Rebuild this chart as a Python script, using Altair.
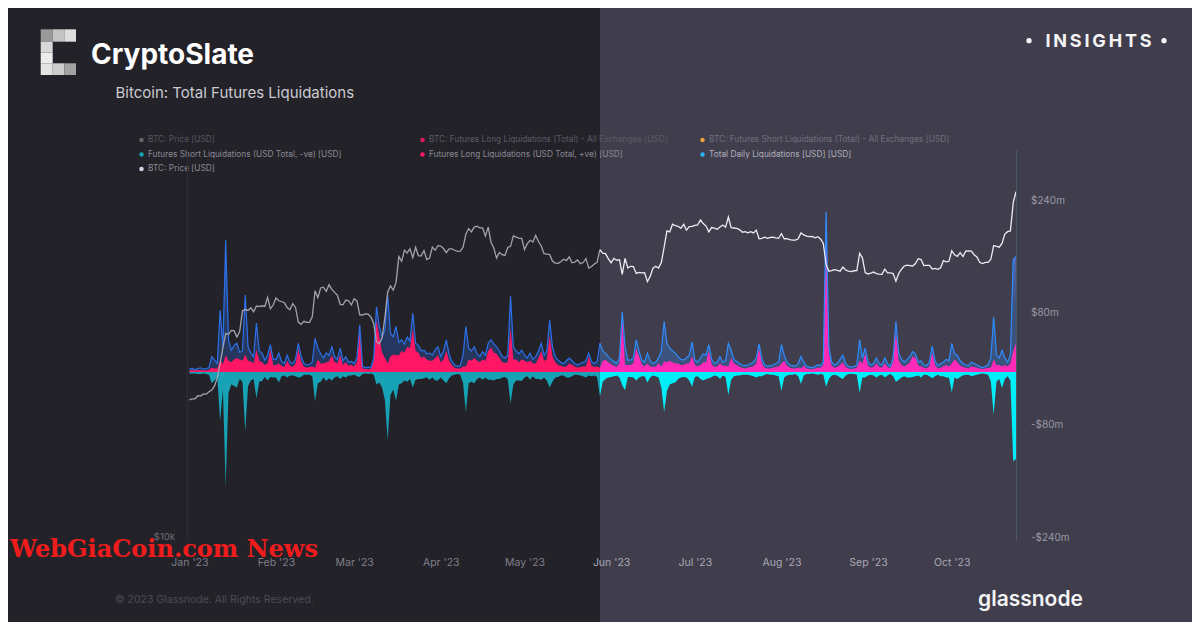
import altair as alt
import pandas as pd

# ---------------- data ----------------
# BTC price, thousand USD, daily 2023-01-01 .. 2023-10-24
price_k = [
    # Jan
    16.61, 16.67, 16.67, 16.85, 16.83, 16.95, 16.94, 17.09, 17.19, 17.44, 17.94, 18.85, 19.93, 20.95, 20.87, 21.17,
    21.16, 20.69, 21.09, 22.68, 22.78, 22.71, 22.92, 22.61, 23.06, 23.01, 23.08, 23.03, 23.77, 22.84, 23.14,
    # Feb
    23.72, 23.49, 23.43, 23.33, 22.94, 22.76, 23.26, 22.95, 21.80, 21.63, 21.86, 21.79, 21.78, 22.20, 24.33, 23.74,
    24.57, 24.63, 24.28, 24.84, 24.44, 24.19, 23.95, 23.20, 23.16, 23.55, 23.49, 23.15,
    # Mar
    23.65, 23.48, 22.36, 22.35, 22.43, 22.41, 22.20, 21.70, 20.36, 20.19, 20.63, 22.16, 24.20, 24.75, 24.38, 25.05,
    27.42, 26.97, 28.04, 27.77, 28.18, 27.31, 28.33, 27.49, 27.49, 27.99, 27.14, 27.27, 28.35, 28.03, 28.48,
    # Apr
    28.45, 28.20, 27.80, 28.17, 28.17, 28.03, 27.92, 27.95, 28.33, 29.65, 30.24, 29.90, 30.40, 30.49, 30.32, 30.32,
    29.45, 30.40, 28.82, 28.25, 27.28, 27.82, 27.60, 27.53, 28.31, 28.42, 29.47, 29.34, 29.25, 29.23,
    # May
    28.09, 28.68, 29.03, 28.85, 29.53, 28.90, 28.45, 27.69, 27.66, 27.62, 26.99, 26.80, 26.78, 26.93, 27.17, 27.03,
    27.40, 26.83, 26.89, 27.10, 26.75, 26.85, 27.22, 26.33, 26.48, 26.72, 26.87, 28.08, 27.75, 27.70, 27.22,
    # Jun
    26.82, 27.25, 27.07, 27.12, 25.76, 27.24, 26.35, 26.50, 26.48, 25.85, 25.94, 25.90, 25.92, 25.12, 25.58, 26.33,
    26.51, 26.34, 26.84, 28.33, 29.99, 29.89, 30.70, 30.55, 30.48, 30.27, 30.69, 30.08, 30.45, 30.48,
    # Jul
    30.59, 30.62, 31.16, 30.77, 30.51, 29.90, 30.35, 30.29, 30.17, 30.41, 30.62, 30.39, 31.48, 30.33, 30.30, 30.25,
    30.14, 29.86, 29.91, 29.80, 29.91, 29.79, 30.08, 29.18, 29.23, 29.35, 29.22, 29.31, 29.35, 29.28, 29.23,
    # Aug
    29.70, 29.18, 29.19, 29.10, 29.05, 29.04, 29.18, 29.77, 29.58, 29.45, 29.40, 29.42, 29.28, 29.40, 29.17, 28.70,
    26.66, 26.05, 26.10, 26.19, 26.12, 26.05, 26.43, 26.16, 26.06, 26.01, 26.09, 26.10, 27.73, 27.30, 25.93,
    # Sep
    25.80, 25.87, 25.97, 25.83, 25.79, 25.76, 26.24, 25.90, 25.90, 25.84, 25.16, 25.84, 26.23, 26.53, 26.61, 26.57,
    26.53, 26.76, 27.21, 27.13, 26.57, 26.58, 26.58, 26.25, 26.30, 26.22, 26.37, 27.03, 26.91, 26.97,
    # Oct
    27.98, 27.59, 27.43, 27.80, 27.42, 27.95, 27.97, 27.94, 27.60, 27.39, 26.87, 26.76, 26.86, 26.86, 27.16, 28.50,
    28.42, 28.33, 28.71, 29.67, 29.91, 29.99, 33.09, 34.40,
]

# Futures long liquidations (USD Total, +ve), million USD
long_m = [
    2, 3, 2, 3, 3, 2, 2, 3, 6, 5, 5, 18, 11, 24, 16, 14, 18, 20, 18, 16, 25, 16, 15, 12, 32, 16, 14, 10, 12, 32, 10,
    10, 12, 9, 7, 16, 9, 7, 12, 33, 15, 8, 6, 7, 8, 6, 18, 12, 12, 14, 15, 24, 14, 12, 24, 10, 14, 9, 10,
    8, 14, 60, 5, 4, 4, 4, 16, 75, 50, 28, 20, 12, 22, 25, 24, 24, 30, 28, 36, 34, 62, 30, 28, 20, 22, 18, 16, 16, 20, 24,
    14, 18, 30, 16, 10, 6, 5, 5, 8, 8, 18, 16, 20, 16, 14, 18, 16, 30, 35, 28, 26, 20, 14, 13, 14, 63, 18, 18, 14, 18,
    16, 14, 16, 12, 12, 20, 30, 16, 18, 52, 22, 14, 10, 9, 7, 8, 12, 10, 8, 6, 7, 8, 8, 22, 9, 7, 8, 6, 16, 17, 14,
    11, 9, 7, 12, 79, 10, 10, 10, 12, 34, 22, 11, 8, 12, 8, 7, 8, 12, 8, 15, 14, 16, 14, 12, 12, 10, 10, 12, 12, 22,
    10, 8, 10, 14, 14, 30, 11, 7, 8, 12, 9, 9, 8, 20, 12, 10, 7, 6, 5, 6, 7, 8, 12, 34, 12, 6, 5, 5, 6, 7, 8,
    12, 16, 9, 6, 5, 5, 6, 5, 9, 5, 4, 4, 5, 6, 6, 10, 208, 26, 9, 6, 7, 10, 14, 7, 5, 4, 5, 6, 16, 12, 26,
    9, 6, 7, 12, 7, 6, 12, 7, 5, 14, 58, 16, 10, 8, 10, 14, 22, 20, 9, 8, 6, 5, 8, 28, 10, 5, 6, 8, 10, 8,
    12, 18, 14, 9, 7, 6, 5, 8, 7, 6, 5, 4, 5, 6, 6, 18, 10, 10, 8, 10, 8, 12, 30, 41,
]

# Futures short liquidations (USD Total, -ve), million USD
short_m = [
    -2, -2, -2, -3, -3, -2, -3, -4, -16, -12, -8, -70, -25, -164, -30, -18, -20, -22, -10, -14, -85, -20, -12, -10,
    -38, -14, -13, -7, -12, -7, -8,
    -8, -15, -6, -5, -8, -5, -5, -6, -8, -7, -4, -4, -4, -6, -42, -16, -14, -8, -13, -9, -12, -8, -6, -10, -6, -8, -5, -5,
    -4, -6, -7, -3, -2, -3, -2, -4, -18, -15, -22, -40, -98, -33, -25, -41, -18, -16, -12, -14, -10, -22, -11, -10,
    -10, -9, -8, -11, -8, -12, -12,
    -8, -12, -16, -9, -5, -4, -3, -4, -16, -57, -16, -14, -16, -10, -8, -11, -8, -11, -11, -12, -10, -10, -8, -7,
    -10, -45, -18, -12, -12, -13,
    -8, -6, -11, -6, -10, -10, -11, -8, -12, -22, -14, -8, -7, -5, -5, -8, -8, -6, -4, -4, -5, -6, -8, -5,
    -6, -5, -7, -35, -14, -10, -8,
    -7, -6, -5, -8, -19, -26, -7, -7, -8, -12, -8, -6, -6, -15, -8, -5, -6, -8, -22, -57, -27, -18, -16, -15,
    -10, -8, -7, -8, -12, -21,
    -7, -6, -10, -12, -10, -9, -7, -5, -6, -10, -5, -7, -33, -11, -6, -5, -5, -4, -4, -4, -5, -6, -8, -6,
    -6, -4, -3, -4, -4, -5, -6,
    -27, -8, -5, -4, -4, -3, -6, -17, -5, -3, -3, -2, -3, -4, -3, -4, -21, -10, -5, -4, -5, -8, -10, -5,
    -3, -3, -3, -4, -30, -8, -8,
    -5, -4, -5, -8, -5, -4, -8, -5, -3, -6, -14, -11, -8, -6, -8, -8, -7, -6, -5, -8, -4, -4, -6, -9,
    -6, -4, -6, -6, -8, -8,
    -29, -8, -10, -7, -5, -4, -4, -6, -5, -4, -3, -2, -3, -4, -14, -61, -14, -10, -23, -10, -6, -12, -128, -124,
]

# Total daily liquidations, million USD
total_m = [
    4, 5, 3, 5, 6, 4, 5, 6, 22, 17, 12, 88, 36, 188, 46, 31, 38, 41, 28, 30, 110, 36, 27, 22, 70, 30, 27, 17, 24, 39, 18,
    18, 27, 15, 12, 24, 14, 12, 18, 41, 22, 12, 10, 11, 14, 48, 34, 26, 20, 27, 24, 36, 22, 18, 34, 16, 22, 14, 15,
    12, 20, 67, 8, 6, 7, 6, 20, 93, 65, 50, 60, 110, 55, 50, 65, 42, 46, 40, 50, 44, 84, 41, 38, 30, 31, 26, 27, 24, 32, 36,
    22, 30, 46, 25, 15, 10, 8, 9, 24, 65, 34, 30, 36, 26, 22, 29, 24, 41, 46, 40, 36, 30, 22, 20, 24, 108, 36, 30, 26, 31,
    24, 20, 27, 18, 22, 30, 41, 24, 30, 74, 36, 22, 17, 14, 12, 16, 20, 16, 12, 10, 12, 14, 16, 27, 15, 12, 15, 41, 30, 27, 22,
    18, 15, 12, 20, 86, 36, 17, 17, 20, 46, 30, 17, 14, 27, 16, 12, 14, 20, 30, 72, 41, 34, 30, 27, 22, 18, 17, 20, 24, 43,
    17, 14, 20, 26, 24, 39, 18, 12, 14, 22, 14, 16, 41, 31, 18, 15, 12, 10, 9, 10, 12, 14, 20, 40, 18, 10, 8, 9, 10, 12, 14,
    39, 24, 14, 10, 9, 8, 12, 22, 14, 8, 7, 6, 8, 10, 9, 14, 229, 36, 14, 10, 12, 18, 24, 12, 8, 7, 8, 10, 46, 20, 34,
    14, 10, 12, 20, 12, 10, 20, 12, 8, 20, 72, 27, 18, 14, 18, 22, 29, 26, 14, 16, 10, 9, 14, 37, 16, 9, 12, 14, 18, 16,
    41, 26, 24, 16, 12, 10, 9, 14, 12, 10, 8, 6, 8, 10, 20, 79, 24, 20, 31, 20, 14, 24, 160, 165,
]

legend_labels = [
    "BTC: Price [USD]",
    "BTC: Futures Long Liquidations (Total) - All Exchanges [USD]",
    "BTC: Futures Short Liquidations (Total) - All Exchanges [USD]",
    "Futures Short Liquidations (USD Total, -ve) [USD]",
    "Futures Long Liquidations (USD Total, +ve) [USD]",
    "Total Daily Liquidations [USD] [USD]",
    "BTC: Price [USD]",
]
month_ticks = list(range(1, 11))
liq_ticks = [-240, -80, 80, 240]

# ---------------- frames ----------------
n = len(price_k)
dates = pd.date_range("2023-01-01", periods=n, freq="D")
df = pd.DataFrame({
    "date": dates,
    "long": long_m,
    "short": short_m,
    "total": total_m,
    "price": [p * 1000 for p in price_k],
})
SPLIT = 147  # day sitting on the background colour change
dfL = df.iloc[: SPLIT + 1]
dfR = df.iloc[SPLIT:]

# ---------------- styling ----------------
BG_L, BG_R = "#232229", "#403e4c"
TEAL = {"L": "#17a2b5", "R": "#00eef8"}
PINK = {"L": "#ff1766", "R": "#ff2bb8"}
BLUE = {"L": "#2c70e8", "R": "#2f8cff"}
PRICE_C = {"L": "#a3a2ad", "R": "#ececf2"}
FONT = "Inter"

X_DOMAIN = [alt.DateTime(year=2022, month=12, date=31, hours=3, minutes=22),
            alt.DateTime(year=2023, month=10, date=24)]
LIQ_SCALE = alt.Scale(domain=[-240, 317.1], nice=False, zero=False)
PRICE_SCALE = alt.Scale(type="log", domain=[10170, 39810], nice=False)

x_axis = alt.Axis(
    values=[alt.DateTime(year=2023, month=m, date=1) for m in month_ticks],
    format="%b '%y", labelFont=FONT, labelFontSize=10.5,
    labelColor={"condition": {"test": "month(datum.value) >= 5", "value": "#a9a8b6"}, "value": "#7f7e8a"},
    labelBaseline="middle", labelPadding=22, ticks=False, tickSize=0, domain=False, grid=False,
    labelFlush=False, labelOverlap=False, title=None, zindex=1,
)
liq_axis = alt.Axis(
    orient="right", values=liq_ticks,
    labelExpr="datum.value < 0 ? '-$' + abs(datum.value) + 'm' : '$' + datum.value + 'm'",
    labelFont=FONT, labelFontSize=10, labelColor="#9a99a7", labelAlign="left",
    labelBaseline="alphabetic", labelPadding=14.5, ticks=False, tickSize=0, grid=False,
    domain=True, domainColor="#4c5a64", domainWidth=1, title=None, zindex=1,
)
price_axis = alt.Axis(orient="left", labels=False, ticks=False, tickSize=0, grid=False,
                      domain=True, domainColor="#2e2d37", title=None, zindex=1)


def X():
    return alt.X("date:T", scale=alt.Scale(domain=X_DOMAIN), axis=x_axis, title=None)


def YL(field):
    return alt.Y(field, type="quantitative", scale=LIQ_SCALE, axis=liq_axis, title=None)


one = alt.Data(values=[{"k": 0}])


def text_layer(s, x, y, size, color, weight="normal", align="left", baseline="alphabetic", font=FONT):
    return alt.Chart(one).mark_text(
        text=s, align=align, baseline=baseline, font=font, fontSize=size, fontWeight=weight, color=color
    ).encode(x=alt.value(x), y=alt.value(y))


def dot(x, y, color, size=20):
    return alt.Chart(one).mark_circle(size=size, color=color, opacity=1).encode(x=alt.value(x), y=alt.value(y))


def box(x1, x2, y1, y2, color):
    return alt.Chart(one).mark_rect(color=color).encode(
        x=alt.value(x1), x2=alt.value(x2), y=alt.value(y1), y2=alt.value(y2))


layers = []
# right half background
layers.append(box(413, 1020, -150, 480, BG_R))

# ---------------- data layers ----------------
liq_layers = []
for half, d in (("L", dfL), ("R", dfR)):
    base = alt.Chart(d)
    liq_layers.append(base.mark_area(color=TEAL[half], interpolate="linear").encode(
        x=X(), y=YL("short"), y2=alt.datum(0)))
    liq_layers.append(base.mark_area(color=BLUE[half], opacity=0.28, interpolate="linear").encode(
        x=X(), y=YL("total"), y2=alt.datum(0)))
    liq_layers.append(base.mark_area(color=PINK[half], interpolate="linear").encode(
        x=X(), y=YL("long"), y2=alt.datum(0)))
    c = "120,130,255" if half == "R" else "60,110,240"
    grad = {
        "gradient": "linear", "x1": 1, "x2": 1, "y1": 0, "y2": 1,
        "stops": [
            {"offset": 0, "color": f"rgba({c},0.75)"},
            {"offset": 0.6, "color": f"rgba({c},0)"},
        ],
    }
    liq_layers.append(base.mark_area(color=grad, interpolate="linear").encode(
        x=X(), y=YL("total"), y2=alt.datum(0)))
    liq_layers.append(base.mark_line(color=BLUE[half], strokeWidth=1.2, interpolate="linear").encode(
        x=X(), y=YL("total")))

liq_group = alt.layer(*liq_layers)

price_layers = []
for half, d in (("L", dfL), ("R", dfR)):
    price_layers.append(alt.Chart(d).mark_line(color=PRICE_C[half], strokeWidth=1.3).encode(
        x=X(), y=alt.Y("price:Q", scale=PRICE_SCALE, axis=price_axis, title=None)))
price_group = alt.layer(*price_layers)

layers += [liq_group, price_group]

# ---------------- header: logo + titles ----------------
cells = [
    (-146.3, -134.3, -120.7, -108.3, "#9a9a9a"),
    (-134.3, -122.7, -120.7, -108.3, "#c4c4c4"),
    (-122.7, -111.0, -120.7, -108.3, "#dedede"),
    (-146.3, -134.3, -108.3, -97.5, "#d8d8d8"),
    (-146.3, -134.3, -97.5, -86.7, "#ececec"),
    (-146.3, -134.3, -86.7, -75.0, "#e4e4e4"),
    (-134.3, -122.7, -86.7, -75.0, "#cdcdcd"),
    (-122.7, -111.0, -86.7, -75.0, "#a3a3a3"),
]
for cell in cells:
    layers.append(box(*cell))
layers.append(text_layer("CryptoSlate", -96, -86.5, 28, "#ffffff", weight="bold"))
layers.append(text_layer("Bitcoin: Total Futures Liquidations", -71.5, -52.5, 15, "#cbcad2"))
layers.append(text_layer("I\u2009N\u2009S\u2009I\u2009G\u2009H\u2009T\u2009S", 911.5, -102.7, 18, "#f4f4f7",
                         weight="bold", align="center"))
layers.append(dot(842, -109.3, "#f4f4f7", size=28))
layers.append(dot(977, -109.3, "#f4f4f7", size=28))

# ---------------- legend ----------------
leg = [
    (-45.5, -39, -10, "#6b6363", "#56555f", legend_labels[0]),
    (235.5, 242, -10, "#e0185a", "#5b5a66", legend_labels[1]),
    (515.5, 522, -10, "#f0a040", "#706f7d", legend_labels[2]),
    (-45.5, -39, 4.5, "#16a2b6", "#8a8994", legend_labels[3]),
    (235.5, 242, 4.5, "#ff1a66", "#8a8994", legend_labels[4]),
    (515.5, 522, 4.5, "#29b6f6", "#b0afbd", legend_labels[5]),
    (-45.5, -39, 19, "#d4d4e6", "#8a8994", legend_labels[6]),
]
for dx, tx, y, dc, tc, lab in leg:
    layers.append(dot(dx, y, dc, size=20))
    layers.append(text_layer(lab, tx, y, 8.3, tc, baseline="middle"))

# ---------------- footer ----------------
layers.append(text_layer("$10k", -12, 390, 9.5, "#6d6c78", align="right"))
layers.append(text_layer("\u00a9 2023 Glassnode. All Rights Reserved.", -72, 450, 10.5, "#4c4b57", baseline="middle"))
layers.append(text_layer("glassnode", 791, 456, 21, "#f4f4f6", weight=600))
layers.append(text_layer("WebGiaCoin.com News", -177, 407, 24, "#f01c1c", weight="bold", font="DejaVu Serif"))

chart = alt.layer(*layers).resolve_scale(y="independent").properties(
    width=829,
    height=390,
    autosize=alt.AutoSizeParams(type="none"),
    padding={"left": 179, "top": 142, "right": 176, "bottom": 82},
    background=BG_L,
).configure_view(stroke=None)

chart.save("out.html", embed_options={"renderer": "svg", "actions": False})
